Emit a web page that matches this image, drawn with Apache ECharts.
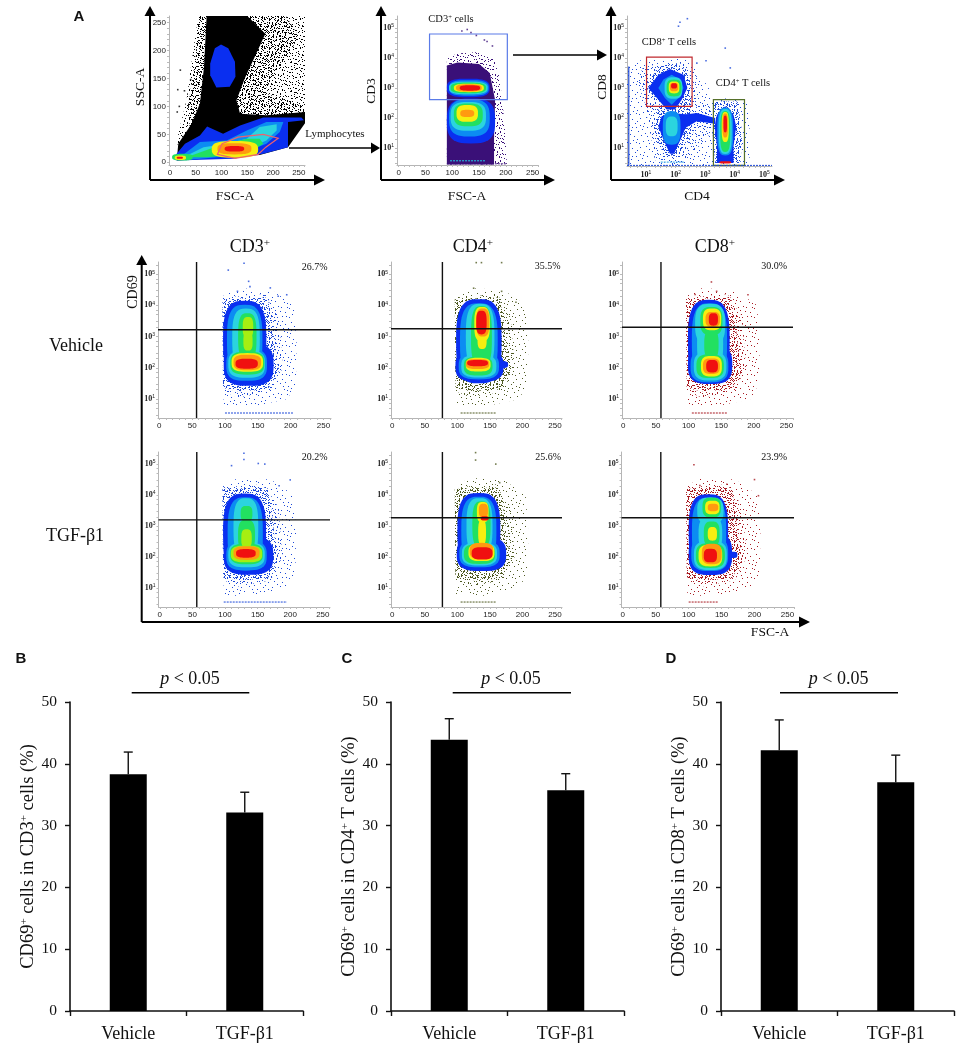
<!DOCTYPE html>
<html><head><meta charset="utf-8">
<script src="https://cdn.jsdelivr.net/npm/echarts@6/dist/echarts.min.js"></script>
<style>html,body{margin:0;padding:0;background:#fff}#c{width:957px;height:1045px}</style>
</head><body><div id="c"></div>
<script>
// ---------- bar data ----------
const barCategories = ['Vehicle', 'TGF-β1'];
const barTicks = [0, 10, 20, 30, 40, 50];
const cd3Means = [38.3, 32.1];
const cd3Upper = [41.9, 35.4];
const cd4Means = [43.9, 35.7];
const cd4Upper = [47.3, 38.4];
const cd8Means = [42.2, 37.0];
const cd8Upper = [47.1, 41.4];

// ---------- flow axis ticks ----------
const linLabels = [0, 50, 100, 150, 200, 250];
const linTicks = [0,10,20,30,40,50,60,70,80,90,100,110,120,130,140,150,160,170,180,190,200,210,220,230,240,250,260];
const logLabels = [1, 2, 3, 4, 5];
const logTicks = [0.48,0.7,0.85,1,1.3,1.48,1.7,1.85,2,2.3,2.48,2.7,2.85,3,3.3,3.48,3.7,3.85,4,4.3,4.48,4.7,4.85,5,5.3];

// ---------- density contours ----------
// ellipse row: [level, centre x, centre y, half width, half height]; polygon row: [level, vertices]
const levelColors = ['#000000','#0a2ff0','#0c8cf2','#2bd4de','#22e060','#a6ee12','#f6ee10','#ff9a10','#f01010'];

const gatingSsc = [
  [0, [[71,262],[150,262],[185,230],[165,190],[145,150],[129,111],[136,87],[187,84],[262,90],[262,70],[229,27],[174,13],[13,3],[16,33],[42,69],[58,105],[66,171]]],
  [1, [[99,211],[113,204],[126,180],[127,153],[116,135],[90,134],[78,156],[78,177],[87,204]]],
  [1, [[10,12],[29,33],[58,48],[72,64],[103,51],[136,66],[181,80],[255,80],[260,75],[229,72],[229,27],[181,15],[123,6],[13,3]]],
  [2, [[19,9],[58,36],[110,39],[149,57],[187,72],[220,72],[213,54],[187,33],[129,12],[32,4]]],
  [3, [[26,9],[65,27],[110,33],[149,42],[174,63],[207,68],[207,57],[187,39],[129,15]]],
  [4, [[32,9],[78,24],[110,33],[149,42],[174,42],[181,33],[149,15],[71,9]]],
  [4, 24,9,20,6],
  [6, 126,23,45,15],[6, 20,8,11,4],
  [7, 125,24,33,10],
  [8, 125,24,19,5],[8, 19,8,6,2]
];
const gatingCd3 = [
  [1, 130,3.0,40,0.31],[1, 135,1.9,45,0.75],
  [2, 131,3.0,37,0.26],[2, 132,2.0,38,0.62],
  [3, 130,3.0,36,0.21],[3, 130,2.05,33,0.48],
  [4, 130,3.0,33,0.18],[4, 130,2.1,27,0.38],
  [6, 131,3.0,28,0.14],[6, 128,2.15,20,0.28],
  [7, 131,3.0,24,0.12],[7, 128,2.15,13,0.12],
  [8, 133,3.0,19,0.09]
];
const gatingCd8 = [
  [1, [[1.81,3.63],[2.27,3.44],[2.40,3.0],[2.21,2.61],[1.98,2.28],[1.70,2.28],[1.42,2.61],[1.08,3.0],[1.42,3.44]]],
  [1, [[1.87,2.17],[2.49,2.11],[2.27,1.5],[1.95,0.81],[1.81,0.81],[1.59,1.28],[1.42,1.72],[1.53,2.06]]],
  [1, [[2.27,2.11],[2.72,2.17],[3.34,2.0],[3.34,1.81],[2.72,1.89],[2.33,1.67]]],
  [1, [[3.68,2.39],[3.96,2.11],[4.05,1.72],[3.96,1.06],[3.96,0.5],[3.40,0.5],[3.40,1.06],[3.32,1.72],[3.40,2.11]]],
  [2, [[1.87,3.44],[2.15,3.28],[2.27,3.0],[2.10,2.67],[1.87,2.44],[1.64,2.67],[1.42,3.0],[1.59,3.28]]],
  [2, 1.87,1.67,0.3,0.56],[2, 3.68,1.55,0.27,0.8],
  [3, 1.93,3.0,0.3,0.36],[3, 1.87,1.72,0.2,0.33],[3, 3.68,1.55,0.22,0.75],
  [4, 1.95,3.0,0.25,0.28],[4, 3.68,1.55,0.17,0.68],
  [6, 1.95,3.02,0.18,0.2],[6, 3.68,1.7,0.12,0.5],
  [7, 1.95,3.03,0.14,0.14],[7, 3.68,1.75,0.09,0.4],
  [8, 1.95,3.07,0.1,0.09],[8, 3.68,1.8,0.06,0.28],[8, 3.68,0.52,0.2,0.04]
];
const cd3VehicleBlobs = [
  [1, 130,2.9,33,1.25],[1, 136,2.1,38,0.68],
  [2, 130,2.9,27,1.12],[2, 133,2.1,31,0.52],
  [3, 132,2.95,21,0.95],[3, 133,2.12,28,0.44],
  [4, 134,3.0,14,0.75],[4, 134,2.15,26,0.37],
  [5, 135,3.3,8,0.33],[5, 135,2.85,7,0.3],
  [6, 134,2.17,24,0.3],[7, 134,2.17,21,0.25],[8, 133,2.13,17,0.16]
];
const cd4VehicleBlobs = [
  [1, 133,2.85,35,1.35],[1, 134,2.05,37,0.5],[1, 165,2.1,13,0.12],
  [2, 133,2.85,29,1.22],[2, 133,2.05,31,0.42],
  [3, 135,3.0,22,1.05],[3, 133,2.05,27,0.36],
  [4, 137,3.0,16,0.98],[4, 132,2.05,22,0.3],
  [6, 138,3.4,12,0.55],[6, 138,2.9,7,0.3],[6, 132,2.1,19,0.22],
  [7, 139,3.45,10,0.45],[7, 131,2.12,18,0.16],
  [8, 137,3.45,8,0.38],[8, 131,2.15,16,0.1]
];
const cd8VehicleBlobs = [
  [1, 131,2.85,32,1.33],[1, 133,2.1,34,0.62],
  [2, 132,2.85,27,1.22],[2, 132,2.05,29,0.52],
  [3, 133,3.4,23,0.65],[3, 133,2.75,20,0.7],[3, 133,2.05,25,0.46],
  [4, 135,3.5,17,0.45],[4, 135,2.75,11,0.45],[4, 133,2.05,21,0.38],
  [6, 136,3.55,14,0.35],[6, 135,2.05,16,0.33],
  [7, 137,3.55,11,0.24],[7, 135,2.05,13,0.25],
  [8, 138,3.55,7,0.2],[8, 136,2.05,9,0.2]
];
const cd3TgfBlobs = [
  [1, 130,2.75,33,1.3],[1, 136,2.05,38,0.62],
  [2, 131,2.75,27,1.18],[2, 133,2.05,31,0.48],
  [3, 132,2.95,19,0.95],[3, 133,2.07,28,0.4],
  [4, 133,2.7,13,0.5],[4, 133,3.4,9,0.25],[4, 133,2.1,25,0.33],
  [5, 133,2.6,8,0.3],[5, 133,2.1,24,0.27],
  [7, 133,2.13,20,0.22],[8, 132,2.12,15,0.14]
];
const cd4TgfBlobs = [
  [1, 133,2.85,33,1.22],[1, 137,2.1,38,0.55],
  [2, 133,2.85,27,1.1],[2, 134,2.1,31,0.43],
  [3, 134,3.0,20,0.9],[3, 134,2.1,27,0.37],
  [4, 137,3.05,14,0.75],[4, 134,2.1,24,0.32],
  [6, 139,3.45,9,0.33],[6, 138,2.8,6,0.4],[6, 137,2.15,20,0.28],
  [7, 140,3.5,7,0.22],[7, 137,2.2,18,0.26],
  [8, 142,3.25,6,0.07],[8, 138,2.12,16,0.2]
];
const cd8TgfBlobs = [
  [1, 130,2.8,30,1.23],[1, 133,2.1,33,0.68],[1, 168,2.07,6,0.1],
  [2, 131,2.8,26,1.12],[2, 132,2.1,28,0.55],
  [3, 133,3.5,20,0.42],[3, 133,2.75,18,0.55],[3, 133,2.05,25,0.47],
  [4, 135,3.6,14,0.32],[4, 135,2.75,12,0.4],[4, 133,2.05,22,0.4],
  [6, 136,3.6,11,0.22],[6, 136,2.75,7,0.22],[6, 133,2.05,18,0.35],
  [7, 137,3.6,8,0.12],[7, 135,2.1,15,0.33],
  [8, 133,2.05,10,0.22]
];

// ---------- speckled regions (0 sparse, 1 medium, 2 dense, 3 solid) ----------
const stimSpeckle = [
  [0, [[97,4.3],[120,4.55],[170,4.5],[205,4.0],[209,2.8],[208,1.5],[195,1.0],[140,0.75],[98,0.75]]],
  [1, [[97,4.25],[160,4.35],[182,3.6],[188,2.0],[170,1.25],[120,1.05],[98,1.25]]],
  [2, [[96,4.2],[165,4.25],[172,3.4],[176,2.6],[182,1.9],[165,1.3],[120,1.25],[97,1.35]]]
];
const gatingSscSpeckle = [
  [1, [[13,3],[16,51],[32,111],[45,201],[55,262],[262,262],[262,75],[13,9]]],
  [2, [[55,262],[225,262],[250,225],[215,170],[180,125],[262,100],[262,85],[40,40],[35,100],[50,190]]]
];
const gatingCd3Speckle = [
  [1, [[90,0.45],[202,0.45],[200,1.3],[194,2.5],[188,3.4],[178,3.95],[150,4.2],[110,4.15],[90,4.0]]],
  [3, [[90,0.45],[178,0.45],[178,1.3],[180,2.6],[170,3.5],[150,3.8],[110,3.85],[90,3.75]]]
];
const gatingCd8Speckle = [
  [0, [[0.34,0.42],[0.34,3.72],[1,4.0],[2.5,4.0],[3.3,2.7],[4.5,2.55],[4.5,0.42]]],
  [1, [[0.91,3.72],[2.27,3.83],[2.72,3.39],[2.72,2.72],[3.28,2.28],[3.28,1.61],[2.49,0.72],[2.04,0.42],[1.3,0.6],[1.0,2.4],[0.7,3.2]]],
  [2, [[1.0,3.0],[1.4,3.7],[2.0,3.85],[2.45,3.5],[2.55,2.7],[2.5,2.1],[2.6,1.5],[2.1,0.75],[1.6,0.75],[1.25,1.7],[1.5,2.5]]],
  [2, [[3.3,2.55],[4.1,2.55],[4.25,1.5],[4.2,0.5],[3.35,0.5],[3.25,1.5]]]
];

// ---------- isolated events ----------
const gatingSscDots = [[15,130],[20,165],[28,128],[40,148],[18,100],[14,90]];
const gatingCd3Dots = [[118,4.9],[128,4.95],[135,4.85],[145,4.75],[160,4.6],[175,4.4],[165,4.55]];
const gatingCd8Dots = [[2.10,5.06],[2.15,5.19],[2.40,5.31],[3.68,4.33],[3.85,3.67],[3.03,3.91],[2.72,3.83]];
const cd3VehicleDots = [[105,5.13],[129,5.35],[136,4.77],[169,4.56],[194,4.34],[119,4.45],[181,4.29],[138,4.6]];
const cd4VehicleDots = [[129,5.37],[137,5.37],[168,5.37],[125,4.55],[168,4.45],[190,4.1]];
const cd8VehicleDots = [[135,4.75],[191,4.34],[143,4.45],[110,4.35]];
const cd3TgfDots = [[129,5.35],[110,4.95],[151,5.02],[161,5.0],[200,4.49],[129,5.15],[183,4.3]];
const cd4TgfDots = [[128,5.37],[128,5.13],[159,5.0],[165,4.4]];
const cd8TgfDots = [[108,4.98],[200,4.5],[206,3.98],[117,4.31],[158,4.35]];

// ---------- gates and event strips on the lower edge ----------
const sscGate = [[101,33],[132,45],[181,50],[210,43],[186,27],[171,14],[126,7],[92,14]];
const cd3Gate = [[57.7,2.61],[57.7,4.8],[202.8,4.8],[202.8,2.61]];
const cd8Gate = [[1.02,2.39],[1.02,4.03],[2.56,4.03],[2.56,2.39]];
const cd4Gate = [[3.28,0.42],[3.28,2.61],[4.33,2.61],[4.33,0.42]];

const panels = [
  {rect:[169,16,136,149], x:[-2,262], y:[-5,262], log:[0,0], color:'#000', speckle:gatingSscSpeckle, blobs:gatingSsc, dots:gatingSscDots, gates:[[sscGate,'#f0606e']]},
  {rect:[397,16,141,149], x:[-3,260], y:[0.43,5.4], log:[0,1], color:'#3a1078', speckle:gatingCd3Speckle, blobs:gatingCd3, dots:gatingCd3Dots, gates:[[cd3Gate,'#5a7be8']], strip:[[[90,201,0.47,'#3a1078'],[96,161,0.57,'#22d0e8']]]},
  {rect:[627,16,145,150], x:[0.36,5.26], y:[0.4,5.4], log:[1,1], color:'#1d49d8', speckle:gatingCd8Speckle, blobs:gatingCd8, dots:gatingCd8Dots, gates:[[cd8Gate,'#c0282e'],[cd4Gate,'#56702a']], strip:[[[0.36,5.26,0.42,'#1d49d8'],[1.5,2.3,0.53,'#22a0e8']]], rail:[0.42,0.42,3.72]},
  {rect:[158,262,173,156], x:[-2,261.4], y:[0.39,5.39], log:[0,1], color:'#1d49d8', speckle:stimSpeckle, blobs:cd3VehicleBlobs, dots:cd3VehicleDots, cross:[56.7,3.22], strip:[[[100,205,0.55,'#1d49d8']]]},
  {rect:[391,262,171,156], x:[-2,260.8], y:[0.39,5.39], log:[0,1], color:'#4f5a22', speckle:stimSpeckle, blobs:cd4VehicleBlobs, dots:cd4VehicleDots, cross:[77,3.25], strip:[[[105,160,0.55,'#4f5a22']]]},
  {rect:[622,262,171,156], x:[-2,260], y:[0.39,5.39], log:[0,1], color:'#a81a22', speckle:stimSpeckle, blobs:cd8VehicleBlobs, dots:cd8VehicleDots, cross:[57.7,3.3], strip:[[[105,160,0.55,'#a81a22']]]},
  {rect:[158.5,452,171.5,155], x:[-2,261], y:[0.39,5.39], log:[0,1], color:'#1d49d8', speckle:stimSpeckle, blobs:cd3TgfBlobs, dots:cd3TgfDots, cross:[56.7,3.2], strip:[[[98,195,0.55,'#1d49d8']]]},
  {rect:[391,452,171,155], x:[-2,260.8], y:[0.39,5.39], log:[0,1], color:'#4f5a22', speckle:stimSpeckle, blobs:cd4TgfBlobs, dots:cd4TgfDots, cross:[77,3.27], strip:[[[105,160,0.55,'#4f5a22']]]},
  {rect:[621.5,452,172.5,155], x:[-2,260], y:[0.39,5.39], log:[0,1], color:'#a81a22', speckle:stimSpeckle, blobs:cd8TgfBlobs, dots:cd8TgfDots, cross:[57.7,3.27], strip:[[[100,145,0.55,'#a81a22']]]}
];

const barPanels = [
  {left:70, width:233, means:cd3Means, upper:cd3Upper, name:'{n|CD69}{s|+}{n| cells in CD3}{s|+}{n| cells (%)}'},
  {left:391, width:233, means:cd4Means, upper:cd4Upper, name:'{n|CD69}{s|+}{n| cells in CD4}{s|+}{n| T cells (%)}'},
  {left:721, width:233, means:cd8Means, upper:cd8Upper, name:'{n|CD69}{s|+}{n| cells in CD8}{s|+}{n| T cells (%)}'}
];

// ---------- helpers ----------
const SERIF = '"Liberation Serif","Times New Roman",serif';
const SANS = '"Liberation Sans",Arial,sans-serif';
// fixed dot texture for the speckled regions
const dotTile = [[3,2],[17,5],[26,1],[9,9],[22,13],[2,17],[14,20],[28,24],[7,26],[19,27],[11,14],[24,7],[5,12],[16,11],
  [1,6],[6,5],[12,3],[20,2],[29,4],[4,9],[15,7],[23,10],[27,11],[8,13],[18,15],[30,16],[1,21],[10,18],[21,19],[25,17],
  [6,22],[13,24],[17,23],[27,20],[3,26],[10,27],[23,25],[29,27],[20,9],[12,11],[8,17],[16,26]];
const tileCopies = [[0,0],[15,13],[7,21],[22,6],[11,5],[26,19],[4,15]];
const copiesPerDensity = [1, 3, 7];
const tileCache = {};
function pattern(color, density) {
  if (density === 3) return color;
  const k = color + density;
  if (!tileCache[k]) {
    const cv = document.createElement('canvas'); cv.width = 31; cv.height = 29;
    const g = cv.getContext('2d'); g.fillStyle = color;
    tileCopies.slice(0, copiesPerDensity[density]).forEach(o =>
      dotTile.forEach(p => g.fillRect((p[0] + o[0]) % 31, (p[1] + o[1]) % 29, 1, 1)));
    tileCache[k] = {image: cv, repeat: 'repeat'};
  }
  return tileCache[k];
}
function outline(row) {
  if (Array.isArray(row[1])) return row[1];
  const pts = [], [, cx, cy, rx, ry] = row, n = 3;
  for (let i = 0; i < 48; i++) {
    const t = i / 48 * Math.PI * 2, c = Math.cos(t), s = Math.sin(t);
    pts.push([cx + rx * Math.sign(c) * Math.pow(Math.abs(c), 2 / n), cy + ry * Math.sign(s) * Math.pow(Math.abs(s), 2 / n)]);
  }
  return pts;
}

const grid = [], xAxis = [], yAxis = [], series = [];
const logFmt = v => '{b|10}{e|' + v + '}';
const tickRich = {b:{fontSize:8,fontFamily:SERIF,fontWeight:'bold',color:'#222'}, e:{fontSize:5,fontFamily:SANS,color:'#222',padding:[0,0,4,0]}};
function flowAxis(range, log, idx, isX) {
  return {type:'value', gridIndex:idx, min:range[0], max:range[1], position:isX?'bottom':'left',
    axisLine:{show:true,onZero:false,lineStyle:{color:'#b5b5b5',width:1}},
    axisTick:{show:true,length:2,inside:false,lineStyle:{color:'#bbb',width:1},customValues:log?logTicks:linTicks},
    splitLine:{show:false},
    axisLabel:{show:true,customValues:log?logLabels:linLabels,margin:isX?4:3,fontSize:8,fontFamily:SANS,color:'#222',
      formatter:log?logFmt:(v=>String(v)),rich:tickRich,hideOverlap:false}};
}
panels.forEach((p, i) => {
  grid.push({left:p.rect[0],top:p.rect[1],width:p.rect[2],height:p.rect[3],containLabel:false});
  xAxis.push(flowAxis(p.x, p.log[0], i, true));
  yAxis.push(flowAxis(p.y, p.log[1], i, false));
  const shapes = [];
  p.speckle.forEach(r => shapes.push({pts:r[1], style:{fill:pattern(p.color, r[0])}}));
  p.blobs.slice().sort((a, b) => a[0] - b[0]).forEach(r => shapes.push({pts:outline(r), style:{fill:levelColors[r[0]]}}));
  (p.gates || []).forEach(g => shapes.push({pts:g[0], style:{fill:'none',stroke:g[1],lineWidth:1.2}}));
  series.push({type:'custom', coordinateSystem:'cartesian2d', xAxisIndex:i, yAxisIndex:i, silent:true, clip:true,
    encode:{x:0,y:1}, data:shapes.map(s => s.pts[0]),
    renderItem:(params, api) => {
      const s = shapes[params.dataIndex];
      return {type:'polygon', shape:{points:s.pts.map(q => api.coord(q))}, style:s.style};
    }});
  series.push({type:'scatter', xAxisIndex:i, yAxisIndex:i, silent:true, symbolSize:1.6, symbol:'rect',
    itemStyle:{color:p.color}, data:p.dots});
  (p.strip || []).forEach(group => group.forEach(st => {
    series.push({type:'line', xAxisIndex:i, yAxisIndex:i, silent:true, symbol:'none',
      lineStyle:{color:st[3],width:1,type:[2,1]}, data:[[st[0],st[2]],[st[1],st[2]]]});
  }));
  if (p.rail) series.push({type:'line', xAxisIndex:i, yAxisIndex:i, silent:true, symbol:'none',
      lineStyle:{color:p.color,width:1.2}, data:[[p.rail[0],p.rail[1]],[p.rail[0],p.rail[2]]]});
  if (p.cross) {
    series.push({type:'line', xAxisIndex:i, yAxisIndex:i, silent:true, symbol:'none', lineStyle:{color:'#111',width:1.4},
      data:[[p.cross[0],p.y[0]],[p.cross[0],p.y[1]]]});
    series.push({type:'line', xAxisIndex:i, yAxisIndex:i, silent:true, symbol:'none', lineStyle:{color:'#111',width:1.4},
      data:[[p.x[0],p.cross[1]],[p.x[1],p.cross[1]]]});
  }
});
barPanels.forEach((b, j) => {
  const i = panels.length + j;
  grid.push({left:b.left,top:702,width:b.width,height:309,containLabel:false});
  xAxis.push({type:'category',gridIndex:i,data:barCategories,boundaryGap:true,
    axisLine:{lineStyle:{color:'#111',width:1.6}},axisTick:{show:true,alignWithLabel:false,length:5,lineStyle:{color:'#111',width:1.4}},
    axisLabel:{fontSize:18,fontFamily:SERIF,color:'#111',margin:14,interval:0}});
  yAxis.push({type:'value',gridIndex:i,min:0,max:50,interval:10,
    axisLine:{show:true,lineStyle:{color:'#111',width:1.6}},axisTick:{show:true,length:5,lineStyle:{color:'#111',width:1.4}},
    splitLine:{show:false},axisLabel:{fontSize:15.5,fontFamily:SERIF,color:'#111',margin:13,customValues:barTicks},
    name:b.name,nameLocation:'middle',nameGap:27,nameRotate:90,
    nameTextStyle:{rich:{n:{fontSize:18.5,fontFamily:SERIF,color:'#111'},s:{fontSize:11,fontFamily:SERIF,color:'#111',padding:[0,0,7,0]}}}});
  series.push({type:'bar',xAxisIndex:i,yAxisIndex:i,data:b.means,barWidth:37,silent:true,itemStyle:{color:'#000'}});
  series.push({type:'custom',coordinateSystem:'cartesian2d',xAxisIndex:i,yAxisIndex:i,silent:true,
    encode:{x:0,y:2},data:b.means.map((m,k)=>[k,m,b.upper[k]]),
    renderItem:(params,api)=>{
      const a=api.coord([api.value(0),api.value(1)]), t=api.coord([api.value(0),api.value(2)]);
      const st={stroke:'#111',lineWidth:1.4};
      return {type:'group',children:[
        {type:'line',shape:{x1:a[0],y1:a[1],x2:t[0],y2:t[1]},style:st},
        {type:'line',shape:{x1:t[0]-4.5,y1:t[1],x2:t[0]+4.5,y2:t[1]},style:st}]};
    }});
});

// ---------- annotation ----------
const graphic = [];
const K = '#000';
function gl(x1,y1,x2,y2,w){graphic.push({type:'line',silent:true,shape:{x1,y1,x2,y2},style:{stroke:K,lineWidth:w||2}});}
function tri(a,b,c){graphic.push({type:'polygon',silent:true,shape:{points:[a,b,c]},style:{fill:K}});}
function up(x,y0,tip){gl(x,y0,x,tip+8,2);tri([x-5.5,tip+10],[x+5.5,tip+10],[x,tip]);}
function right(y,x0,tip){gl(x0,y,tip-8,y,2);tri([tip-11,y-5.5],[tip-11,y+5.5],[tip,y]);}
function txt(x,y,text,size,opt){opt=opt||{};
  const o={type:'text',silent:true,x,y,rotation:opt.rot?Math.PI/2:0,z:100,
    style:{text,align:opt.align||'center',verticalAlign:'middle',fill:'#111',font:(opt.bold?'bold ':'')+size+'px '+(opt.fam||SERIF)}};
  if(opt.sup){const s=size*0.62;o.style.rich={n:{fontSize:size,fontFamily:SERIF,fill:'#111',color:'#111'},
    s:{fontSize:s,fontFamily:SERIF,fill:'#111',color:'#111',padding:[0,0,size*0.42,0]},
    i:{fontSize:size,fontFamily:SERIF,fontStyle:'italic',fill:'#111',color:'#111'}};}
  graphic.push(o);}
// white box that masks the first plot behind the Lymphocytes label
graphic.push({type:'rect',silent:true,shape:{x:289,y:120,width:58,height:28},style:{fill:'#fff'}});
up(150,180,6);right(180,150,325);
up(381,180,6);right(180,381,555);
up(611,180,6);right(180,611,785);
gl(289,148,373,148,1.6);tri([371,142.5],[371,153.5],[380,148]);
gl(513,55,600,55,1.6);tri([597,49.5],[597,60.5],[607,55]);
up(141.7,622,255);
gl(141.7,622,800,622,2);tri([799,616.5],[799,627.5],[810,622]);

txt(79,17,'A',15,{bold:true,fam:SANS});
txt(21,659,'B',15,{bold:true,fam:SANS});
txt(347,659,'C',15,{bold:true,fam:SANS});
txt(671,659,'D',15,{bold:true,fam:SANS});
txt(140,87,'SSC-A',13.5,{rot:true});
txt(235,196,'FSC-A',13.5);
txt(371,91,'CD3',13.5,{rot:true});
txt(467,196,'FSC-A',13.5);
txt(602,87,'CD8',13.5,{rot:true});
txt(697,196,'CD4',13.5);
txt(335,134,'Lymphocytes',11);
txt(451,19,'{n|CD3}{s|+}{n| cells}',10.5,{sup:true});
txt(669,42,'{n|CD8}{s|+}{n| T cells}',10.5,{sup:true});
txt(743,83,'{n|CD4}{s|+}{n| T cells}',10.5,{sup:true});
txt(250,247,'{n|CD3}{s|+}',18,{sup:true});
txt(473,247,'{n|CD4}{s|+}',18,{sup:true});
txt(715,247,'{n|CD8}{s|+}',18,{sup:true});
txt(76,346,'Vehicle',18);
txt(75,536,'TGF-β1',18);
txt(133,292,'CD69',14,{rot:true});
txt(770,632,'FSC-A',13.5);
[[327.5,267,'26.7%'],[560.5,266,'35.5%'],[787,266.7,'30.0%'],[327.5,457,'20.2%'],[561,457,'25.6%'],[787,457,'23.9%']]
  .forEach(t=>txt(t[0],t[1],t[2],10,{align:'right'}));
[[190,131.7,249.3],[511,452.7,571],[838.7,780,898]].forEach(t=>{
  txt(t[0],679,'{i|p}{n| < 0.05}',18,{sup:true});
  gl(t[1],692.7,t[2],692.7,1.5);
});

const chart = echarts.init(document.getElementById('c'), null, {renderer:'canvas'});
chart.setOption({animation:false, backgroundColor:'#fff', tooltip:{show:false}, legend:{show:false}, grid, xAxis, yAxis, series, graphic});
</script></body></html>
